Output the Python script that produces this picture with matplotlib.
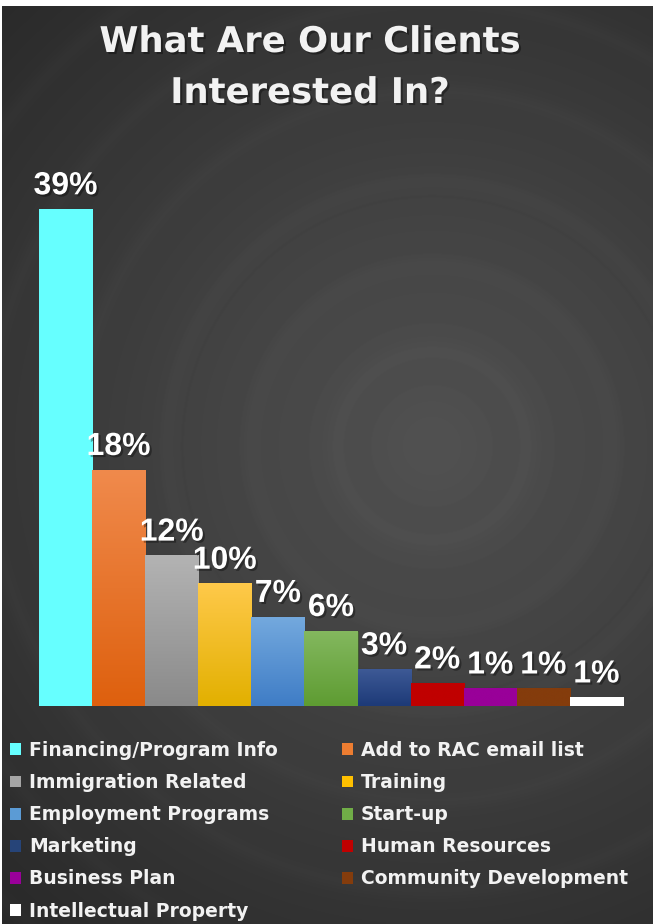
import numpy as np
import matplotlib.pyplot as plt
import matplotlib.patheffects as pe
from matplotlib.patches import Patch
from matplotlib.colors import LinearSegmentedColormap

# data
categories = ['Financing/Program Info', 'Add to RAC email list', 'Immigration Related',
              'Training', 'Employment Programs', 'Start-up', 'Marketing',
              'Human Resources', 'Business Plan', 'Community Development',
              'Intellectual Property']
values = [38.9, 18.5, 11.8, 9.6, 7.0, 5.9, 2.9, 1.8, 1.4, 1.4, 0.7]
value_labels = ['39%', '18%', '12%', '10%', '7%', '6%', '3%', '2%', '1%', '1%', '1%']

# (top, bottom) gradient colours for each bar
top_colors = ['#66FFFF', '#F08A4C', '#B3B3B3', '#FFC94A', '#74A9DE', '#84B85F',
              '#3E5A96', '#C00000', '#990099', '#843C0C', '#FFFFFF']
bottom_colors = ['#66FFFF', '#DE600E', '#8A8A8A', '#E2B000', '#3F7DC6', '#5E9C32',
                 '#1D3A78', '#C00000', '#990099', '#843C0C', '#FFFFFF']
base_colors = ['#66FFFF', '#ED7D31', '#A5A5A5', '#FFC000', '#5B9BD5', '#70AD47',
               '#264478', '#C00000', '#990099', '#843C0C', '#FFFFFF']

W, H = 653, 924
fig = plt.figure(figsize=(W / 100, H / 100), dpi=100)
fig.patch.set_facecolor('white')

# dark radial background with faint rings
bg = fig.add_axes([2 / W, 0, 1 - 2 / W, (H - 6) / H])
bg.axis('off')
yy, xx = np.mgrid[0:H - 6, 0:W - 2]
r = np.hypot(xx - 430, yy - 440)
img = 0.32 - 0.155 * (r / 615)
for rad in [95, 180, 265, 355, 445, 535, 625]:
    img += 0.012 * np.exp(-((r - rad) / 9) ** 2)
img = np.clip(img, 0, 1)
bg.imshow(img, cmap='gray', vmin=0, vmax=1, aspect='auto', interpolation='bilinear')

# bar axes
base_y = 706
px_per_unit = 12.78
ymax = 42
ax = fig.add_axes([39 / W, (H - base_y) / H, 584 / W, ymax * px_per_unit / H])
ax.set_xlim(-0.5, len(values) - 0.5)
ax.set_ylim(0, ymax)
ax.axis('off')

x = np.arange(len(values))
bars = ax.bar(x, values, width=1.0, color=base_colors, zorder=2,
              edgecolor=(0, 0, 0, 0.25), linewidth=0.8)

for bar, c0, c1 in zip(bars, top_colors, bottom_colors):
    cmap = LinearSegmentedColormap.from_list('g', [c1, c0])
    grad = np.linspace(0, 1, 100).reshape(-1, 1)
    x0, h, w = bar.get_x(), bar.get_height(), bar.get_width()
    im = ax.imshow(grad, cmap=cmap, extent=[x0, x0 + w, 0, h], origin='lower',
                   aspect='auto', zorder=2.5)
    im.set_clip_path(bar)

shadow = [pe.withSimplePatchShadow(offset=(1.5, -1.5), shadow_rgbFace='black', alpha=0.35)]
for bar, lab in zip(bars, value_labels):
    ax.annotate(lab, (bar.get_x() + bar.get_width() / 2, bar.get_height()),
                xytext=(0, 10.5), textcoords='offset points', ha='center', va='baseline',
                fontsize=23, fontweight='bold', color='white', family='Liberation Sans',
                annotation_clip=False, path_effects=shadow)
ax.set_xlim(-0.5, len(values) - 0.5)

# title
fig.text(310 / W, 1 - 52 / H, 'What Are Our Clients', ha='center', va='baseline',
         fontsize=25.5, fontweight='bold', color='#F2F2F2', family='DejaVu Sans',
         path_effects=shadow)
fig.text(310 / W, 1 - 103 / H, 'Interested In?', ha='center', va='baseline',
         fontsize=25.5, fontweight='bold', color='#F2F2F2', family='DejaVu Sans',
         path_effects=shadow)

# legend, filled row by row like the reference
order = list(range(0, len(categories), 2)) + list(range(1, len(categories), 2))
handles = [Patch(facecolor=base_colors[i], edgecolor='none') for i in order]
labels = [categories[i] for i in order]
leg = fig.legend(handles, labels, ncol=2, loc='upper left',
                 bbox_to_anchor=(10 / W, 1 - 741 / H), frameon=False,
                 borderaxespad=0, borderpad=0,
                 handlelength=0.6, handleheight=0.6, handletextpad=0.42,
                 labelspacing=0.70, columnspacing=3.4,
                 prop={'family': 'DejaVu Sans', 'weight': 'bold', 'size': 13.5})
for t in leg.get_texts():
    t.set_color('#F2F2F2')

fig.savefig('out.png', dpi=100, facecolor=fig.get_facecolor())
